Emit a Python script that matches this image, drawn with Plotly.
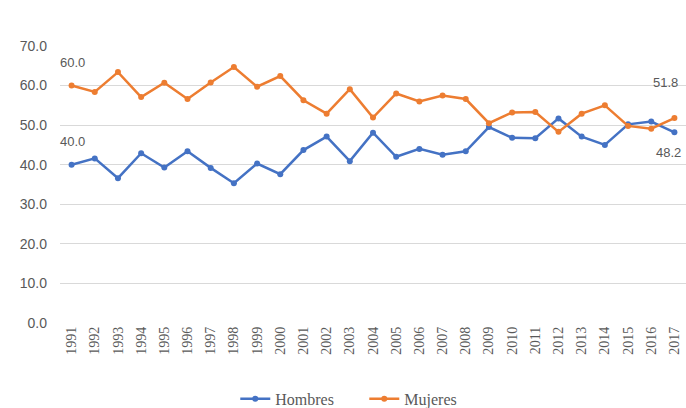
import plotly.graph_objects as go

years = [str(y) for y in range(1991, 2018)]
mujeres = [60.0, 58.4, 63.4, 57.1, 60.7, 56.6, 60.8, 64.7, 59.7, 62.4, 56.3, 52.9, 59.1, 51.9,
           58.0, 56.0, 57.5, 56.6, 50.5, 53.2, 53.3, 48.3, 52.9, 55.0, 49.8, 49.1, 51.8]
hombres = [40.0, 41.6, 36.6, 42.9, 39.3, 43.4, 39.2, 35.3, 40.3, 37.6, 43.7, 47.1, 40.9, 48.1,
           42.0, 44.0, 42.5, 43.4, 49.5, 46.8, 46.7, 51.7, 47.1, 45.0, 50.2, 50.9, 48.2]
y_ticks = [0, 10, 20, 30, 40, 50, 60, 70]

BLUE = "#4472C4"
ORANGE = "#ED7D31"
GRAY = "#595959"

fig = go.Figure()
fig.add_trace(go.Scatter(x=years, y=hombres, name="Hombres", mode="lines+markers",
                         line=dict(color=BLUE, width=2.5), marker=dict(size=6, color=BLUE)))
fig.add_trace(go.Scatter(x=years, y=mujeres, name="Mujeres", mode="lines+markers",
                         line=dict(color=ORANGE, width=2.5), marker=dict(size=6, color=ORANGE)))

lab_font = dict(family="Liberation Sans, Arial", size=13, color=GRAY)
first, last = 0, len(years) - 1  # category indices
labels = [
    (first, mujeres[first], 1, 23),
    (first, hombres[first], 1, 23),
    (last, mujeres[last], -9, 36),
    (last, hombres[last], -6, -20),
]
for xi, yv, xs, ys in labels:
    fig.add_annotation(x=xi, y=yv, xref="x", yref="y", text=f"{yv:.1f}", showarrow=False,
                       xshift=xs, yshift=ys, font=lab_font)

fig.update_layout(
    width=686, height=408,
    margin=dict(l=60, r=0, t=46, b=85, autoexpand=False),
    paper_bgcolor="white", plot_bgcolor="white",
    showlegend=True,
    legend=dict(orientation="h", x=0.28, xanchor="left", y=-0.274, yanchor="middle",
                entrywidth=84, entrywidthmode="pixels",
                font=dict(family="Liberation Serif, Times New Roman", size=16, color=GRAY)),
    xaxis=dict(type="category", range=[-0.5, 26.5], tickangle=-90, showgrid=False,
               showline=False, ticks="", automargin=False,
               tickfont=dict(family="Liberation Serif, Times New Roman", size=14, color=GRAY)),
    yaxis=dict(range=[0, 70], tickvals=y_ticks, ticktext=[f"{v:.1f}" for v in y_ticks],
               showgrid=True, gridcolor="#D9D9D9", gridwidth=1, zeroline=False,
               showline=False, ticks="", ticklabelstandoff=12, automargin=False,
               tickfont=dict(family="Liberation Sans, Arial", size=14, color=GRAY)),
)

fig.write_html("out.html", config={"displayModeBar": False},
               post_script="document.body.style.margin='0';")
